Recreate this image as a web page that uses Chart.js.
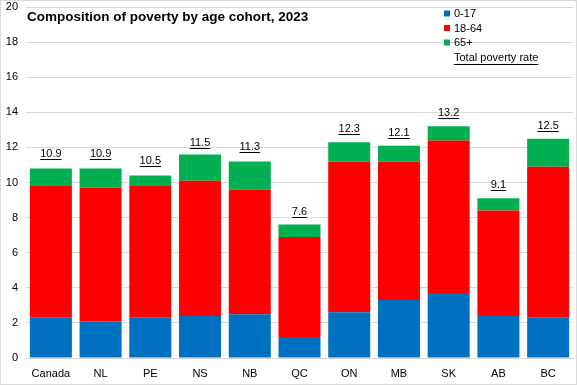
<!DOCTYPE html>
<html>
<head>
<meta charset="utf-8">
<script src="https://cdn.jsdelivr.net/npm/chart.js@4/dist/chart.umd.min.js"></script>
<style>
html,body{margin:0;padding:0;background:#fff;}
#wrap{width:577px;height:385px;position:relative;}
</style>
</head>
<body>
<div id="wrap"><canvas id="c" width="577" height="385"></canvas></div>
<script>
const categories = ["Canada","NL","PE","NS","NB","QC","ON","MB","SK","AB","BC"];
const age0to17 = [2.3, 2.1, 2.3, 2.4, 2.5, 1.2, 2.6, 3.3, 3.7, 2.4, 2.3];
const age18to64 = [7.5, 7.6, 7.5, 7.7, 7.1, 5.7, 8.6, 7.9, 8.7, 6.0, 8.6];
const age65plus = [1.0, 1.1, 0.6, 1.5, 1.6, 0.7, 1.1, 0.9, 0.8, 0.7, 1.6];
const totalRate = [10.9, 10.9, 10.5, 11.5, 11.3, 7.6, 12.3, 12.1, 13.2, 9.1, 12.5];
const yTicks = [0,2,4,6,8,10,12,14,16,18,20];
const titleText = "Composition of poverty by age cohort, 2023";

const FONT = "'Liberation Sans', Arial, sans-serif";

const overlay = {
  id: 'overlay',
  afterDatasetsDraw(chart) {
    const ctx = chart.ctx;
    ctx.save();
    const meta = chart.getDatasetMeta(3);
    ctx.font = "11px " + FONT;
    ctx.fillStyle = "#000";
    ctx.strokeStyle = "#000";
    ctx.lineWidth = 1;
    ctx.textAlign = "center";
    ctx.textBaseline = "middle";
    meta.data.forEach((pt, i) => {
      const t = totalRate[i].toFixed(1);
      const y = pt.y - 13;
      ctx.fillText(t, pt.x, y);
      const w = ctx.measureText(t).width;
      ctx.beginPath();
      ctx.moveTo(pt.x - w/2, Math.round(y + 5) + 0.5);
      ctx.lineTo(pt.x + w/2, Math.round(y + 5) + 0.5);
      ctx.stroke();
    });
    ctx.textAlign = "left";
    ctx.font = "bold 13.5px " + FONT;
    ctx.fillText(titleText, 27, 17);
    ctx.font = "11px " + FONT;
    const ds = chart.data.datasets;
    const rows = [13.5, 28, 42.5, 57.5];
    ds.forEach((d, i) => {
      const y = rows[i];
      if (i < 3) {
        ctx.fillStyle = d.backgroundColor;
        ctx.fillRect(444, y - 3, 6, 6);
        ctx.fillStyle = "#000";
        ctx.fillText(d.label, 454, y + 0.5);
      } else {
        ctx.fillStyle = "#000";
        ctx.fillText(d.label, 454, y + 0.5);
        const w = ctx.measureText(d.label).width;
        ctx.beginPath();
        ctx.moveTo(454, Math.round(y + 6) + 0.5);
        ctx.lineTo(454 + w, Math.round(y + 6) + 0.5);
        ctx.stroke();
      }
    });
    ctx.strokeStyle = "#d9d9d9";
    ctx.strokeRect(0.5, 0.5, chart.width - 1, chart.height - 1);
    ctx.restore();
  }
};

new Chart(document.getElementById('c'), {
  type: 'bar',
  data: {
    labels: categories,
    datasets: [
      { label: '0-17', data: age0to17, backgroundColor: '#0070C0', stack: 's' },
      { label: '18-64', data: age18to64, backgroundColor: '#FF0000', stack: 's' },
      { label: '65+', data: age65plus, backgroundColor: '#00B050', stack: 's' },
      { label: 'Total poverty rate', data: totalRate, type: 'line', showLine: false, pointRadius: 0, stack: 't', borderColor: '#000' }
    ]
  },
  options: {
    responsive: false,
    animation: false,
    events: [],
    layout: { padding: { top: 7, right: 4, left: 0, bottom: 0 } },
    datasets: { bar: { categoryPercentage: 1, barPercentage: 0.845 } },
    plugins: { legend: { display: false }, title: { display: false }, tooltip: { enabled: false } },
    scales: {
      x: {
        stacked: true,
        grid: { display: false, drawTicks: false },
        border: { color: '#d9d9d9' },
        ticks: { font: { family: FONT, size: 11 }, color: '#000', padding: 9 },
        afterFit(s) { s.height = 27; s.paddingLeft = 0; s.paddingRight = 0; }
      },
      y: {
        stacked: true,
        min: 0, max: 20,
        afterBuildTicks(s) { s.ticks = yTicks.map(v => ({ value: v })); },
        grid: { color: '#d9d9d9', drawTicks: false },
        border: { display: false },
        ticks: { font: { family: FONT, size: 11 }, color: '#000', padding: 8 },
        afterFit(s) { s.width = 26; s.paddingTop = 0; s.paddingBottom = 0; }
      }
    }
  },
  plugins: [overlay]
});
</script>
</body>
</html>
